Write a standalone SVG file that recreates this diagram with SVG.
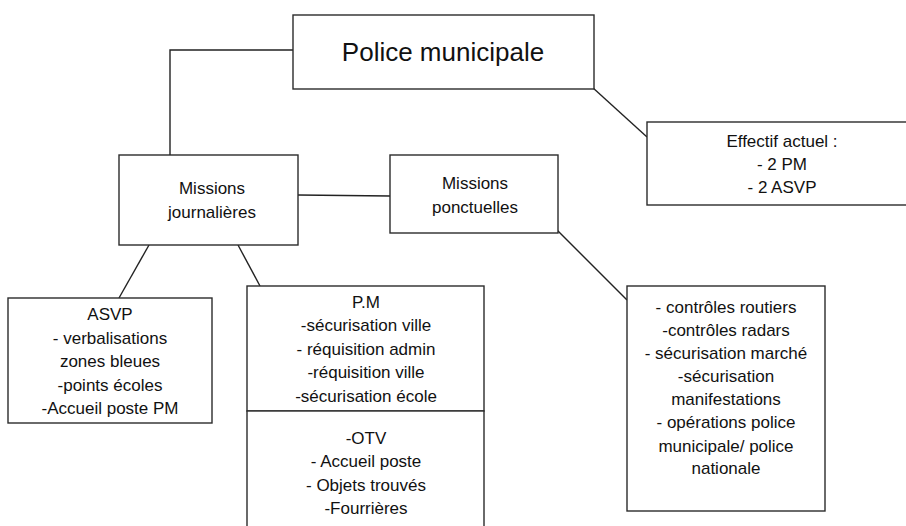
<svg xmlns="http://www.w3.org/2000/svg" width="906" height="526" viewBox="0 0 906 526">
<style>
.box{fill:#ffffff;stroke:#2b2b2b;stroke-width:1.4}
.con{fill:none;stroke:#222222;stroke-width:1.4}
text{font-family:"Liberation Sans",Arial,sans-serif;font-size:17px;fill:#111111;text-anchor:middle}
.title{font-size:26px}
</style>
<rect width="906" height="526" fill="#ffffff"/>
<g id="connectors">
<polyline class="con" points="299,50 170,50 170,155"/>
<line class="con" x1="298" y1="195" x2="390" y2="196"/>
<line class="con" x1="592" y1="87" x2="647" y2="137"/>
<line class="con" x1="555" y1="228" x2="627" y2="300"/>
<line class="con" x1="149" y1="245" x2="119" y2="298"/>
<line class="con" x1="238" y1="245" x2="260" y2="286"/>
</g>
<g id="police">
<rect class="box" x="293" y="15" width="301" height="74"/>
<text class="title" x="443" y="61">Police municipale</text>
</g>
<g id="effectif">
<rect class="box" x="647" y="122" width="270" height="83"/>
<text x="782" y="147">Effectif actuel :</text>
<text x="782" y="170">- 2 PM</text>
<text x="782" y="193">- 2 ASVP</text>
</g>
<g id="journalieres">
<rect class="box" x="119" y="155" width="179" height="90"/>
<text x="212" y="194">Missions</text>
<text x="212" y="218">journalières</text>
</g>
<g id="ponctuelles">
<rect class="box" x="390" y="155" width="168" height="78"/>
<text x="475" y="189">Missions</text>
<text x="475" y="213">ponctuelles</text>
</g>
<g id="asvp">
<rect class="box" x="8" y="298" width="204" height="125"/>
<text x="110" y="320">ASVP</text>
<text x="110" y="344">- verbalisations</text>
<text x="110" y="367">zones bleues</text>
<text x="110" y="391">-points écoles</text>
<text x="110" y="414">-Accueil poste PM</text>
</g>
<g id="pm">
<rect class="box" x="247" y="286" width="237" height="125"/>
<text x="366" y="308">P.M</text>
<text x="366" y="331">-sécurisation ville</text>
<text x="366" y="355">- réquisition admin</text>
<text x="366" y="378">-réquisition ville</text>
<text x="366" y="402">-sécurisation école</text>
</g>
<g id="otv">
<rect class="box" x="247" y="411" width="237" height="130"/>
<text x="366" y="444">-OTV</text>
<text x="366" y="467">- Accueil poste</text>
<text x="366" y="491">- Objets trouvés</text>
<text x="366" y="514">-Fourrières</text>
</g>
<g id="ponctuelles-details">
<rect class="box" x="627" y="286" width="198" height="225"/>
<text x="726" y="313">- contrôles routiers</text>
<text x="726" y="336">-contrôles radars</text>
<text x="726" y="359">- sécurisation marché</text>
<text x="726" y="382">-sécurisation</text>
<text x="726" y="405">manifestations</text>
<text x="726" y="428">- opérations police</text>
<text x="726" y="452">municipale/ police</text>
<text x="726" y="474">nationale</text>
</g>
</svg>
